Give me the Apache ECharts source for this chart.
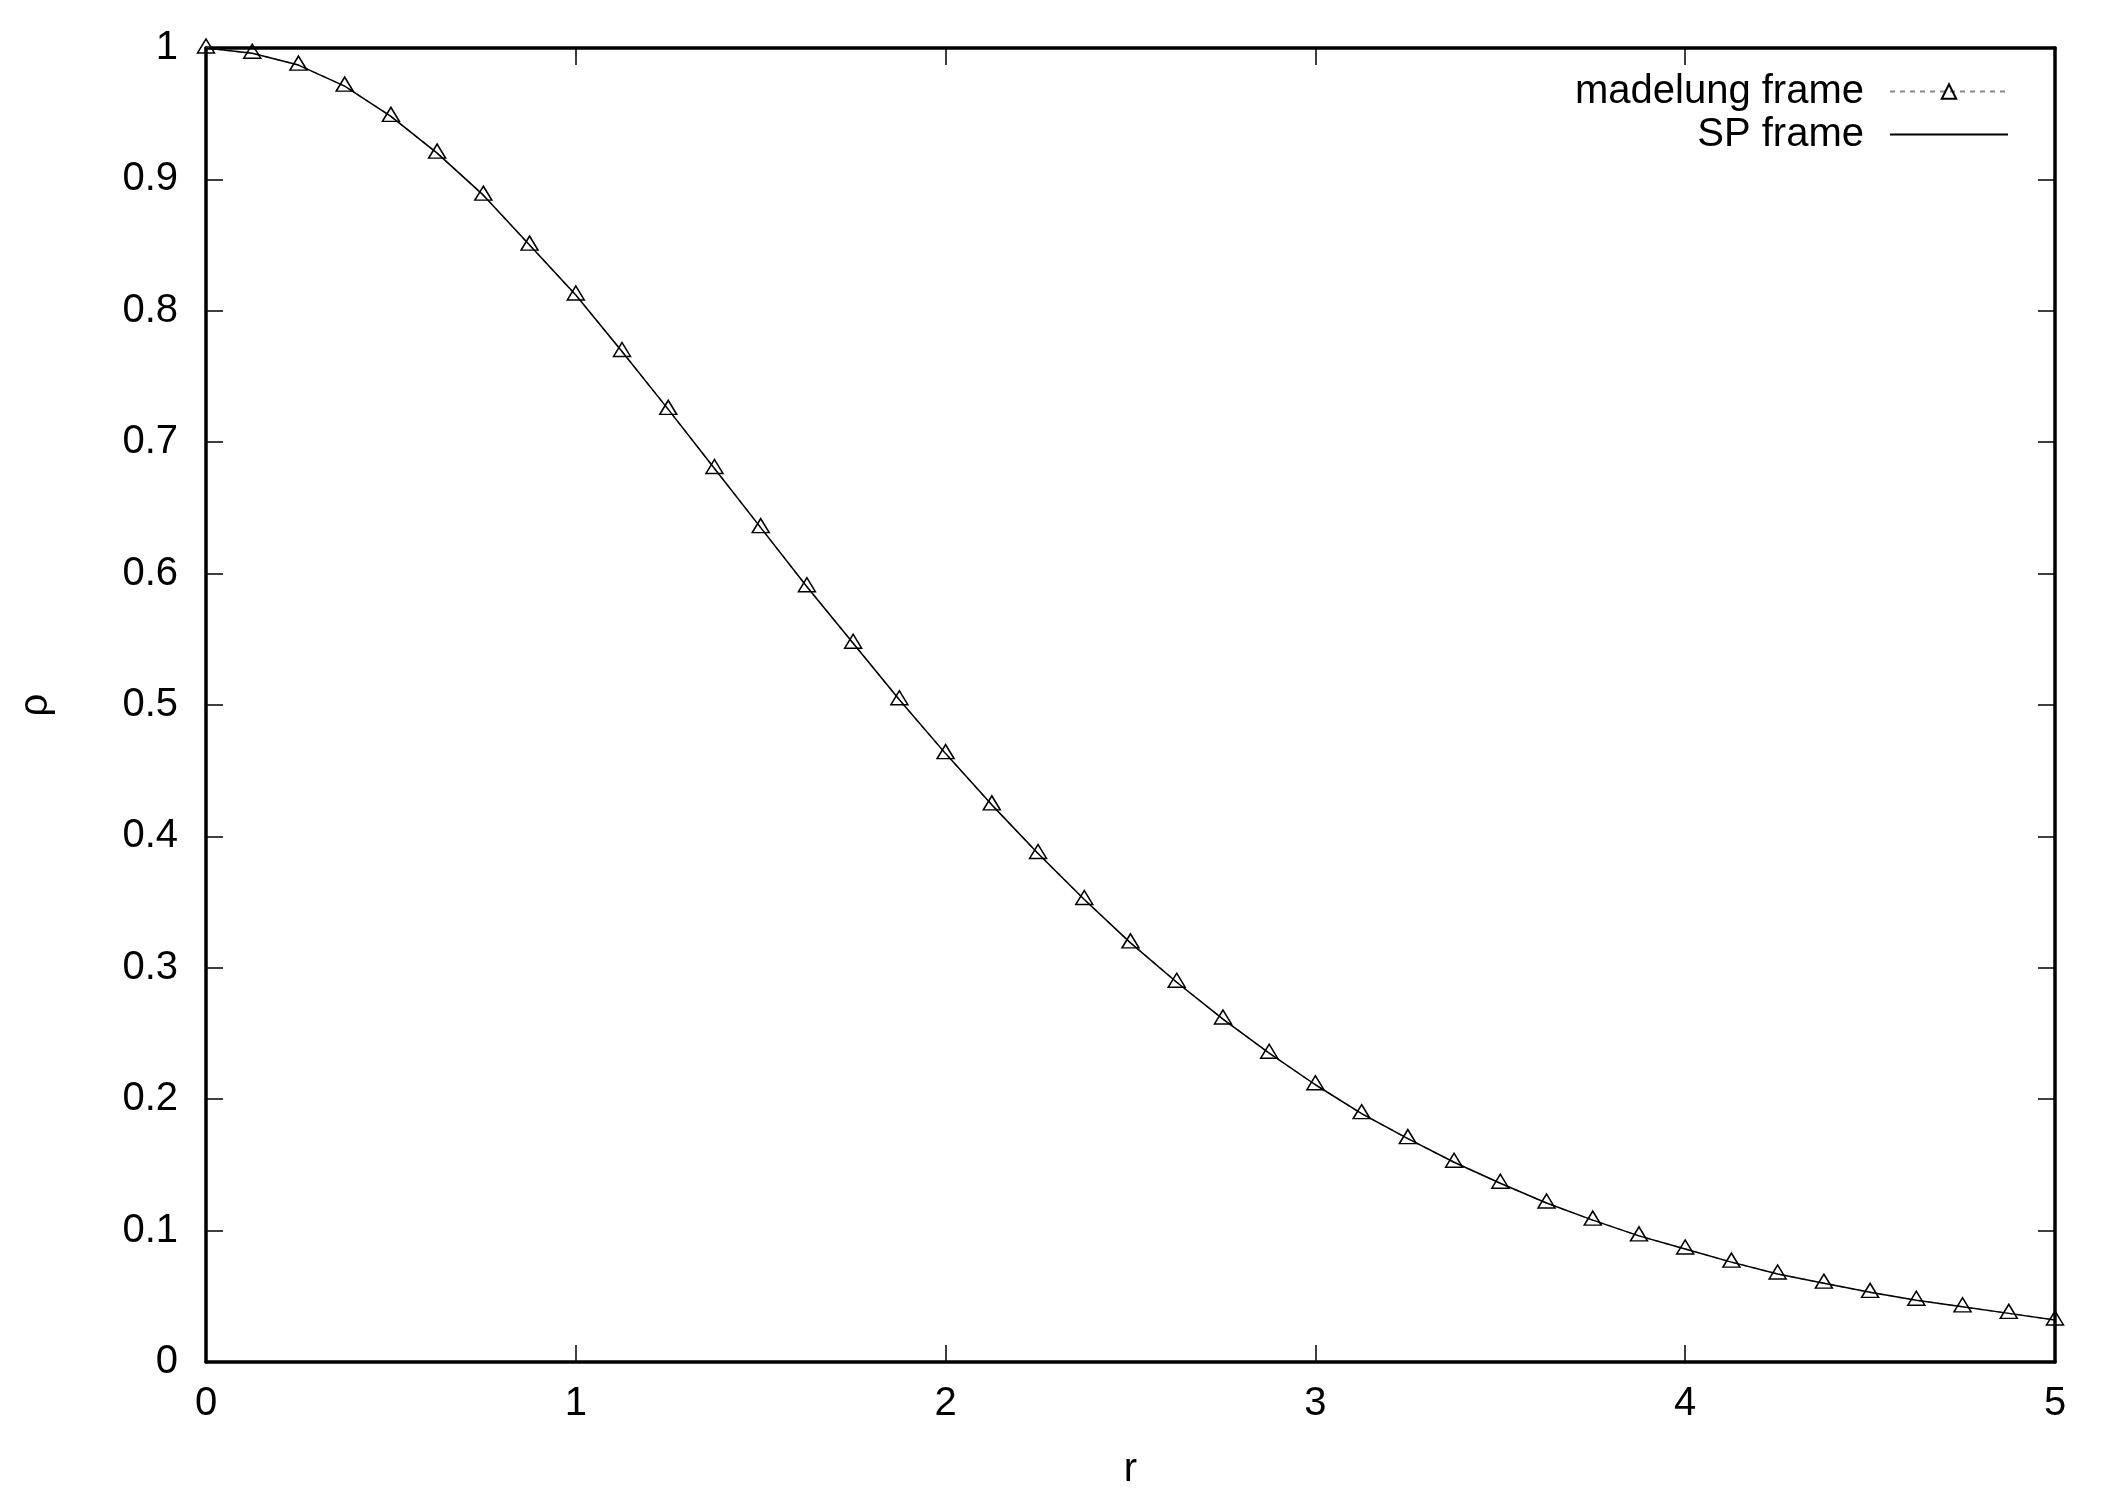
<!DOCTYPE html>
<html>
<head>
<meta charset="utf-8">
<title>rho vs r</title>
<script src="https://cdn.jsdelivr.net/npm/echarts@6/dist/echarts.min.js"></script>
<style>
  html, body { margin: 0; padding: 0; background: #fff; }
  #chart { width: 2112px; height: 1505px; }
</style>
</head>
<body>
<div id="chart"></div>
<script>
// r grid and density
const rValues = [
  0, 0.125, 0.25, 0.375, 0.5, 0.625, 0.75, 0.875, 1, 1.125,
  1.25, 1.375, 1.5, 1.625, 1.75, 1.875, 2, 2.125, 2.25, 2.375,
  2.5, 2.625, 2.75, 2.875, 3, 3.125, 3.25, 3.375, 3.5, 3.625,
  3.75, 3.875, 4, 4.125, 4.25, 4.375, 4.5, 4.625, 4.75, 4.875, 5
];
const madelungRho = [
  1.000, 0.996, 0.987, 0.971, 0.948, 0.920, 0.888, 0.850, 0.812, 0.769,
  0.725, 0.680, 0.635, 0.590, 0.547, 0.504, 0.463, 0.424, 0.387, 0.352,
  0.319, 0.289, 0.261, 0.235, 0.211, 0.189, 0.170, 0.152, 0.136, 0.121,
  0.108, 0.096, 0.086, 0.076, 0.067, 0.060, 0.053, 0.047, 0.042, 0.037, 0.032
];
const spRho = madelungRho.slice();

const xTicks = [0, 1, 2, 3, 4, 5];
const yTickStep = 0.1;

const FONT = "Liberation Sans";
const GRID = { left: 206, right: 57, top: 48, bottom: 143 };
const plotHeight = 1505 - GRID.top - GRID.bottom;

const pairs = (xs, ys) => xs.map((x, i) => [x, ys[i]]);

// gnuplot style frame: thick border, short ticks pointing inwards
function frameLine() {
  return { show: true, onZero: false, lineStyle: { color: "#000", width: 3.5 } };
}
function tick(inside) {
  return { show: true, inside: inside, length: 17, lineStyle: { color: "#000", width: 1.5 } };
}

const option = {
  animation: false,
  backgroundColor: "#fff",
  grid: GRID,
  legend: {
    orient: "vertical",
    right: 98,
    top: 65,
    align: "right",
    itemWidth: 118,
    itemHeight: 18,
    itemGap: 0,
    selectedMode: false,
    textStyle: {
      fontFamily: FONT, fontSize: 40, color: "#000",
      lineHeight: 43, padding: [0, 21, 0, 0]
    },
    data: [
      { name: "madelung frame" },
      { name: "SP frame", itemStyle: { opacity: 0 } }
    ]
  },
  xAxis: [
    {
      type: "value", min: 0, max: 5, interval: 1,
      name: "r", nameLocation: "middle", nameGap: 88,
      nameTextStyle: { fontFamily: FONT, fontSize: 40, color: "#000" },
      axisLine: frameLine(), axisTick: tick(true), splitLine: { show: false },
      axisLabel: { fontFamily: FONT, fontSize: 40, color: "#000", margin: 22,
        formatter: v => (xTicks.includes(v) ? String(v) : "") }
    },
    {
      // top border: a bottom axis lifted to the top, ticks pointing down into the plot
      type: "value", min: 0, max: 5, interval: 1, position: "bottom",
      offset: -plotHeight,
      axisLine: frameLine(), axisTick: tick(false), splitLine: { show: false },
      axisLabel: { show: false }
    }
  ],
  yAxis: [
    {
      type: "value", min: 0, max: 1, interval: yTickStep,
      name: "ρ", nameLocation: "middle", nameGap: 150,
      nameTextStyle: { fontFamily: FONT, fontSize: 40, color: "#000" },
      axisLine: frameLine(), axisTick: tick(true), splitLine: { show: false },
      axisLabel: { fontFamily: FONT, fontSize: 40, color: "#000", margin: 28,
        formatter: v => String(+v.toFixed(1)) }
    },
    {
      type: "value", min: 0, max: 1, interval: yTickStep, position: "right",
      axisLine: frameLine(), axisTick: tick(true), splitLine: { show: false },
      axisLabel: { show: false }
    }
  ],
  series: [
    {
      name: "madelung frame",
      type: "line",
      data: pairs(rValues, madelungRho),
      symbol: "triangle",
      symbolSize: [17, 14],
      symbolOffset: [0, -2],
      showAllSymbol: true,
      clip: false,
      lineStyle: { color: "#888", width: 1.5, type: [5, 5] },
      itemStyle: { color: "rgba(0,0,0,0)", borderColor: "#000", borderWidth: 1.5 },
      emphasis: { disabled: true },
      z: 2
    },
    {
      name: "SP frame",
      type: "line",
      data: pairs(rValues, spRho),
      symbol: "none",
      clip: false,
      lineStyle: { color: "#000", width: 1.5 },
      itemStyle: { color: "#000" },
      emphasis: { disabled: true },
      z: 3
    }
  ]
};

const chart = echarts.init(document.getElementById("chart"));
chart.setOption(option);
</script>
</body>
</html>
